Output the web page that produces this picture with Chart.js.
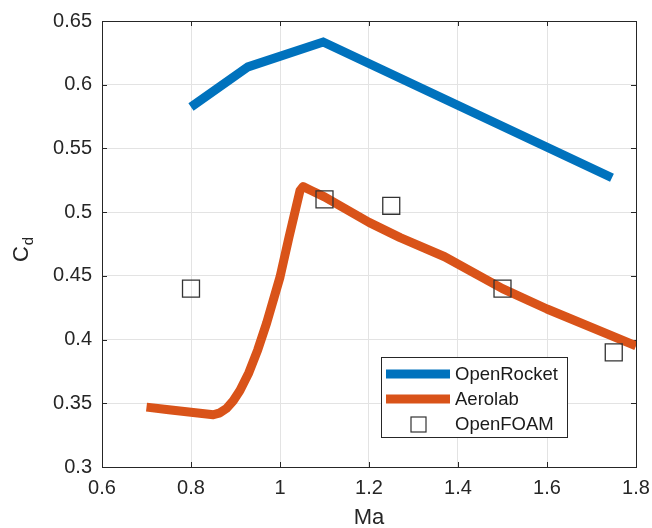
<!DOCTYPE html>
<html><head><meta charset="utf-8">
<script src="https://cdn.jsdelivr.net/npm/chart.js@4"></script>
<style>html,body{margin:0;padding:0;background:#fff}</style>
</head><body>
<canvas id="c" width="652" height="528"></canvas>
<script>
const openRocketMa = [0.8, 0.928, 1.097, 1.746];
const openRocketCd = [0.5825, 0.614, 0.6335, 0.527];
const aerolabMa = [0.70, 0.75, 0.80, 0.85, 0.865, 0.88, 0.895, 0.91, 0.93, 0.95, 0.97, 1.00, 1.02, 1.045, 1.052, 1.07, 1.10, 1.15, 1.20, 1.27, 1.37, 1.50, 1.60, 1.80];
const aerolabCd = [0.347, 0.345, 0.343, 0.341, 0.3425, 0.346, 0.352, 0.360, 0.374, 0.392, 0.413, 0.449, 0.480, 0.517, 0.520, 0.517, 0.512, 0.502, 0.492, 0.480, 0.465, 0.440, 0.424, 0.395];
const openFoamMa = [0.8, 1.1, 1.25, 1.5, 1.75];
const openFoamCd = [0.44, 0.51, 0.505, 0.44, 0.39];
const seriesNames = ['OpenRocket', 'Aerolab', 'OpenFOAM'];
const xTicks = [0.6, 0.8, 1, 1.2, 1.4, 1.6, 1.8];
const xTickLabels = ['0.6', '0.8', '1', '1.2', '1.4', '1.6', '1.8'];
const yTicks = [0.3, 0.35, 0.4, 0.45, 0.5, 0.55, 0.6, 0.65];
const yTickLabels = ['0.3', '0.35', '0.4', '0.45', '0.5', '0.55', '0.6', '0.65'];
const xTitle = 'Ma';
const yTitleMain = 'C';
const yTitleSub = 'd';

const BLUE = '#0072BD', ORANGE = '#D95319', AXIS = '#262626', GRID = '#e3e3e3';
const FONT = '"Liberation Sans", Arial, sans-serif';

const pts = (xs, ys) => xs.map((x, i) => ({x, y: ys[i]}));

const boxPlugin = {
  id: 'boxPlugin',
  beforeDatasetsDraw(chart) {
    const {ctx, chartArea: a, scales} = chart;
    ctx.save();
    ctx.strokeStyle = AXIS;
    ctx.lineWidth = 1;
    ctx.beginPath();
    xTicks.forEach(v => {
      const px = Math.round(scales.x.getPixelForValue(v)) + 0.5;
      ctx.moveTo(px, a.bottom); ctx.lineTo(px, a.bottom - 5);
      ctx.moveTo(px, a.top); ctx.lineTo(px, a.top + 5);
    });
    yTicks.forEach(v => {
      const py = Math.round(scales.y.getPixelForValue(v)) + 0.5;
      ctx.moveTo(a.left, py); ctx.lineTo(a.left + 5, py);
      ctx.moveTo(a.right, py); ctx.lineTo(a.right - 5, py);
    });
    ctx.stroke();
    ctx.strokeRect(Math.round(a.left) + 0.5, Math.round(a.top) + 0.5, Math.round(a.right - a.left), Math.round(a.bottom - a.top));
    ctx.restore();
  },
  afterDraw(chart) {
    const {ctx, chartArea: a} = chart;
    ctx.save();
    ctx.fillStyle = AXIS;
    ctx.translate(28, (a.top + a.bottom) / 2 + 6);
    ctx.rotate(-Math.PI / 2);
    ctx.font = '22px ' + FONT;
    ctx.textBaseline = 'alphabetic';
    ctx.textAlign = 'left';
    const cw = ctx.measureText(yTitleMain).width;
    ctx.font = '15px ' + FONT;
    const dw = ctx.measureText(yTitleSub).width;
    const start = -(cw + dw) / 2;
    ctx.font = '22px ' + FONT;
    ctx.fillText(yTitleMain, start, 0);
    ctx.font = '15px ' + FONT;
    ctx.fillText(yTitleSub, start + cw + 1, 5);
    ctx.restore();

    ctx.save();
    const lx = 381, ly = 357, lw = 186, lh = 80;
    ctx.fillStyle = '#fff';
    ctx.fillRect(lx, ly, lw, lh);
    ctx.strokeStyle = AXIS;
    ctx.lineWidth = 1;
    ctx.strokeRect(lx + 0.5, ly + 0.5, lw, lh);
    const rows = [ly + 17, ly + 42, ly + 67];
    ctx.font = '18.5px ' + FONT;
    ctx.textBaseline = 'middle';
    ctx.textAlign = 'left';
    chart.data.datasets.forEach((ds, i) => {
      const y = rows[i];
      if (ds.showLine === false) {
        ctx.strokeStyle = ds.borderColor;
        ctx.lineWidth = 1.2;
        ctx.strokeRect(411, y - 7, 15, 15);
      } else {
        ctx.strokeStyle = ds.borderColor;
        ctx.lineWidth = ds.borderWidth;
        ctx.beginPath();
        ctx.moveTo(386, y); ctx.lineTo(450, y);
        ctx.stroke();
      }
      ctx.fillStyle = '#1a1a1a';
      ctx.fillText(ds.label, 455, y + 1);
    });
    ctx.restore();
  }
};

const tickFont = {family: FONT, size: 20};

new Chart(document.getElementById('c'), {
  type: 'scatter',
  data: {
    datasets: [
      {label: seriesNames[0], data: pts(openRocketMa, openRocketCd), showLine: true, borderColor: BLUE, backgroundColor: BLUE, borderWidth: 9, pointRadius: 0, tension: 0, borderCapStyle: 'butt', borderJoinStyle: 'miter', order: 3},
      {label: seriesNames[1], data: pts(aerolabMa, aerolabCd), showLine: true, borderColor: ORANGE, backgroundColor: ORANGE, borderWidth: 9, pointRadius: 0, tension: 0, borderCapStyle: 'butt', borderJoinStyle: 'round', order: 2},
      {label: seriesNames[2], data: pts(openFoamMa, openFoamCd), showLine: false, borderColor: '#333333', backgroundColor: 'rgba(0,0,0,0)', pointStyle: 'rect', pointRadius: 12, pointBorderWidth: 1.3, order: 1}
    ]
  },
  options: {
    responsive: false,
    animation: false,
    devicePixelRatio: 1,
    layout: {padding: {top: 21, right: 16, left: 0, bottom: 0}},
    plugins: {legend: {display: false}, tooltip: {enabled: false}},
    scales: {
      x: {
        type: 'linear', min: 0.6, max: 1.8,
        afterBuildTicks: s => { s.ticks = xTicks.map(v => ({value: v})); },
        afterFit: s => { s.height = 61; s.paddingLeft = 0; s.paddingRight = 0; },
        ticks: {font: tickFont, color: AXIS, padding: 9, maxRotation: 0, autoSkip: false,
          callback: (v) => { const i = xTicks.findIndex(t => Math.abs(t - v) < 1e-9); return i >= 0 ? xTickLabels[i] : ''; }},
        grid: {color: GRID, lineWidth: 1, drawTicks: false},
        border: {display: false}
      },
      y: {
        type: 'linear', min: 0.3, max: 0.65,
        afterBuildTicks: s => { s.ticks = yTicks.map(v => ({value: v})); },
        afterFit: s => { s.width = 102; s.paddingTop = 0; s.paddingBottom = 0; },
        ticks: {font: tickFont, color: AXIS, padding: 10, autoSkip: false,
          callback: (v) => { const i = yTicks.findIndex(t => Math.abs(t - v) < 1e-9); return i >= 0 ? yTickLabels[i] : ''; }},
        grid: {color: GRID, lineWidth: 1, drawTicks: false},
        border: {display: false}
      }
    }
  },
  plugins: [boxPlugin, {
    id: 'xTitle',
    afterDraw(chart) {
      const {ctx, chartArea: a} = chart;
      ctx.save();
      ctx.fillStyle = AXIS;
      ctx.font = '22px ' + FONT;
      ctx.textAlign = 'center';
      ctx.textBaseline = 'middle';
      ctx.fillText(xTitle, (a.left + a.right) / 2, 518);
      ctx.restore();
    }
  }]
});
</script>
</body></html>
